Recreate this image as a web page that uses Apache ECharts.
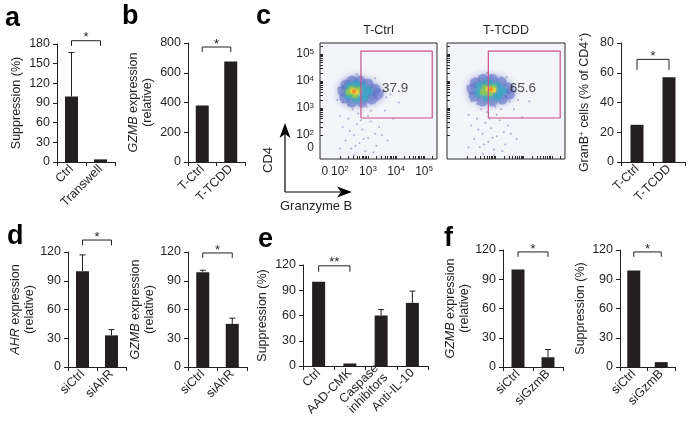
<!DOCTYPE html>
<html><head><meta charset="utf-8">
<script src="https://cdn.jsdelivr.net/npm/echarts@6/dist/echarts.min.js"></script>
<style>html,body{margin:0;padding:0;background:#fff}#c{width:693px;height:431px}</style>
</head><body><div id="c"></div>
<script>
// ---------- data ----------
const aCats = ['Ctrl', 'Transwell'];
const aVals = [100, 4];
const aErr = [167, null];

const bCats = ['T-Ctrl', 'T-TCDD'];
const bVals = [380, 675];

const cCats = ['T-Ctrl', 'T-TCDD'];
const cVals = [25, 57];

const d1Cats = ['siCtrl', 'siAhR'];
const d1Vals = [100, 33];
const d1Err = [117, 39];

const d2Cats = ['siCtrl', 'siAhR'];
const d2Vals = [99, 45];
const d2Err = [101, 51];

const eCats = ['Ctrl', 'AAD-CMK', 'Caspase\ninhibitors', 'Anti-IL-10'];
const eVals = [100, 3, 60, 75];
const eErr = [null, null, 67, 89];

const f1Cats = ['siCtrl', 'siGzmB'];
const f1Vals = [100, 10];
const f1Err = [null, 18];

const f2Cats = ['siCtrl', 'siGzmB'];
const f2Vals = [99, 5];

// significance brackets: [low, high] in data units
const aSig = [177, 185], bSig = [740, 773], cSig = [62, 69], d1Sig = [127, 132.5], d2Sig = [114, 119],
      eSig = [112, 119], f1Sig = [113, 118], f2Sig = [113, 118];

// flow cytometry (positions in log10 decades; 0 drawn at ~1.5)
const flowTitles = ['T-Ctrl', 'T-TCDD'];
const gatePct = ['37.9', '65.6'];
const gateX = [2.75, 5.29];
const gateY = [2.63, 5.11];
const gateLabelPos = [3.97, 3.72];
const flowZeroX = [1.46];
const flowZeroY = [1.53];
const flowDecadePos = [2, 3, 4, 5];
const flowDecadeText = ['10{s|2}', '10{s|3}', '10{s|4}', '10{s|5}'];
const flowZeroText = '0';

const ctrlSparse = [[2.2,3.9],[2.05,3.5],[2.3,3.1],[2.95,3.05],[3.35,3.3],[3.55,3.6],[3.25,4.1],[2.6,4.25],[1.95,3.75],[3.65,3.4],[3.1,2.9],[2.45,2.95],[3.8,3.5],[2.1,3.2],
  [2.3,2.6],[2.6,2.4],[2.8,2.2],[2.5,2.0],[3.0,1.9],[2.7,1.7],[3.3,1.6],[2.2,1.8],[2.9,1.4],[3.5,2.0],[2.4,1.5],[3.1,2.5],[2.65,2.8],[3.7,1.8],[2.1,2.3],[2.9,1.2],
  [3.4,2.3],[2.5,1.25],[3.2,1.35],[2.0,1.5],[3.9,2.6],[4.1,3.2],[3.0,2.7],[2.35,2.15],[2.75,2.55],[3.25,2.05],[2.55,1.6],[2.85,1.85],[3.6,2.9],[2.0,2.7],[1.9,3.3]];
const ctrlBlue = [[2.21,3.85],[2.43,4.0],[2.71,4.0],[3.0,3.89],[3.25,3.7],[3.36,3.52],[3.14,3.33],[2.79,3.22],[2.43,3.22],[2.18,3.37],[2.11,3.63],[2.57,3.78],[2.93,3.56]];
const ctrlCyan = [[2.36,3.78],[2.57,3.85],[2.79,3.78],[3.0,3.63],[2.86,3.41],[2.57,3.37],[2.32,3.48]];
const ctrlGreen = [[2.43,3.7],[2.64,3.67],[2.54,3.48],[2.32,3.59]];
const ctrlYellow = [[2.45,3.63],[2.58,3.59]];
const ctrlOrange = [[2.5,3.62]];

const tcddSparse = [[2.3,3.95],[2.1,3.55],[2.35,3.15],[3.0,3.05],[3.5,3.25],[3.7,3.6],[3.4,4.15],[2.7,4.3],[2.0,3.8],[3.8,3.3],[3.2,2.95],[2.5,2.95],[3.95,3.6],[2.15,3.25],
  [2.35,2.6],[2.65,2.45],[2.85,2.25],[2.55,2.05],[3.05,1.95],[2.75,1.75],[3.35,1.65],[2.25,1.85],[2.95,1.45],[3.55,2.05],[2.45,1.55],[3.15,2.55],[2.7,2.85],[3.75,1.85],[2.15,2.35],[2.95,1.25],
  [3.45,2.35],[2.55,1.3],[3.25,1.4],[2.05,1.55],[3.95,2.65],[4.2,3.25],[3.05,2.75],[2.4,2.2],[2.8,2.6],[3.3,2.1],[2.6,1.65],[2.9,1.9],[3.65,2.95],[2.05,2.75],[4.0,3.9]];
const tcddBlue = [[2.29,3.93],[2.57,4.07],[2.89,4.07],[3.21,3.96],[3.46,3.74],[3.5,3.52],[3.25,3.33],[2.89,3.26],[2.54,3.26],[2.25,3.44],[2.18,3.7],[2.71,3.85],[3.07,3.59]];
const tcddCyan = [[2.46,3.81],[2.75,3.93],[3.04,3.81],[3.25,3.63],[3.07,3.44],[2.71,3.41],[2.43,3.56]];
const tcddGreen = [[2.64,3.74],[2.93,3.74],[2.79,3.56],[2.57,3.59]];
const tcddYellow = [[2.75,3.7],[2.93,3.67]];
const tcddOrange = [[2.84,3.7]];

// ---------- styling / layout ----------
const FONT = '"Liberation Sans", Arial, Helvetica, sans-serif';
const INK = '#231f20';
const TICK_FS = 12.5;

const grids = [], xAxes = [], yAxes = [], series = [], graphics = [];
const sigList = [];

function txt(extra) { return Object.assign({ color: INK, fontFamily: FONT, fontSize: TICK_FS }, extra || {}); }

function addBarPanel(p) {
  const gi = grids.length, xi = xAxes.length, yi = yAxes.length;
  grids.push(Object.assign({ containLabel: false }, p.grid));
  xAxes.push({
    type: 'category', gridIndex: gi, data: p.cats, position: 'bottom',
    axisLine: { show: true, lineStyle: { color: INK, width: 1 } },
    axisTick: { show: true, length: 4, lineStyle: { color: INK } },
    axisLabel: txt({ rotate: 45, margin: 5, interval: 0, lineHeight: 13 })
  });
  yAxes.push({
    type: 'value', gridIndex: gi, min: 0, max: p.max, interval: p.interval, position: 'left',
    splitLine: { show: false },
    axisLine: { show: true, lineStyle: { color: INK, width: 1 } },
    axisTick: { show: true, length: 4, lineStyle: { color: INK } },
    axisLabel: txt({ margin: 7 }),
    name: p.name, nameLocation: 'middle', nameGap: p.gap, nameRotate: 90,
    nameTextStyle: txt({ lineHeight: 14, rich: {
      i: txt({ fontStyle: 'italic', lineHeight: 14 }),
      sup: txt({ fontSize: 8, verticalAlign: 'top', lineHeight: 9 })
    } })
  });
  series.push({ type: 'bar', xAxisIndex: xi, yAxisIndex: yi, data: p.vals, barWidth: 13,
    itemStyle: { color: INK }, silent: true, animation: false });
  if (p.errs) {
    const ed = [];
    p.errs.forEach((e, i) => { if (e != null) ed.push([i, p.vals[i], e]); });
    series.push({
      type: 'custom', xAxisIndex: xi, yAxisIndex: yi, data: ed, clip: false, silent: true, animation: false,
      encode: { x: 0, y: 1 },
      renderItem: function (params, api) {
        const b = api.coord([api.value(0), api.value(1)]);
        const t = api.coord([api.value(0), api.value(2)]);
        return { type: 'group', children: [
          { type: 'line', shape: { x1: b[0], y1: b[1], x2: b[0], y2: t[1] }, style: { stroke: INK, lineWidth: 1 } },
          { type: 'line', shape: { x1: b[0] - 3, y1: t[1], x2: b[0] + 3, y2: t[1] }, style: { stroke: INK, lineWidth: 1 } }
        ] };
      }
    });
  }
  if (p.sig) {
    const lo = p.sig[0], hi = p.sig[1];
    series.push({ type: 'line', xAxisIndex: xi, yAxisIndex: yi, clip: false, silent: true, animation: false,
      symbol: 'none', lineStyle: { color: INK, width: 1 },
      data: [[0, lo], [0, hi], [1, hi], [1, lo]] });
    sigList.push({ xi: xi, yi: yi, hi: hi, star: p.star });
  }
}

function addFlowPanel(f) {
  const gi = grids.length, xi = xAxes.length, yi = yAxes.length;
  grids.push(Object.assign({ containLabel: false, show: true, backgroundColor: '#f4f5f9', borderColor: '#2a2a2a', borderWidth: 1 }, f.grid));
  const minorX = [], minorY = [];
  for (let d = 2; d <= 5; d++) for (let k = 1; k <= 9; k++) {
    const v = d + Math.log10(k);
    if (v <= 5.45) minorX.push(v);
    if (v <= 5.4) minorY.push(v);
  }
  const fmt = (v) => { for (let i = 0; i < flowDecadePos.length; i++) if (Math.abs(flowDecadePos[i] - v) < 1e-3) return flowDecadeText[i]; return flowZeroText; };
  const rich = { s: txt({ fontSize: 8, verticalAlign: 'top', lineHeight: 8 }) };
  const xBase = { type: 'value', gridIndex: gi, min: 1.29, max: 5.46, position: 'bottom', offset: 0, splitLine: { show: false }, axisLine: { show: false } };
  const yBase = { type: 'value', gridIndex: gi, min: 1.11, max: 5.41, position: 'left', offset: 0, splitLine: { show: false }, axisLine: { show: false } };
  xAxes.push(Object.assign({}, xBase, {
    axisTick: { show: true, inside: true, length: 3, customValues: minorX, lineStyle: { color: '#2a2a2a' } },
    axisLabel: txt({ show: f.labels, customValues: flowDecadePos, formatter: fmt, margin: 6, rich: rich, lineHeight: 14, fontSize: 12 }) }));
  xAxes.push(Object.assign({}, xBase, { axisTick: { show: false },
    axisLabel: txt({ show: f.labels, customValues: flowZeroX, formatter: fmt, margin: 6, rich: rich, lineHeight: 14, fontSize: 12 }) }));
  yAxes.push(Object.assign({}, yBase, {
    axisTick: { show: true, inside: true, length: 3, customValues: minorY, lineStyle: { color: '#2a2a2a' } },
    axisLabel: txt({ show: f.labels, customValues: flowDecadePos, formatter: fmt, margin: 6, rich: rich, lineHeight: 13, fontSize: 12 }) }));
  yAxes.push(Object.assign({}, yBase, { axisTick: { show: false },
    axisLabel: txt({ show: f.labels, customValues: flowZeroY, formatter: fmt, margin: 6, rich: rich, lineHeight: 13, fontSize: 12 }) }));
  const sc = (data, color, size, op, blur) => series.push({ type: 'scatter', xAxisIndex: xi, yAxisIndex: yi, data: data,
    symbolSize: size, silent: true, animation: false,
    itemStyle: { color: color, opacity: op, shadowBlur: blur, shadowColor: color } });
  sc(f.sparse, '#9f97c9', 2, 0.8, 0);
  sc(f.blue, '#5b6cc6', 11, 0.5, 6);
  sc(f.cyan, '#3aa6c6', 8.5, 0.7, 5);
  sc(f.green, '#86c45a', 6.5, 0.85, 4);
  sc(f.yellow, '#ecd23e', 5, 0.95, 3);
  sc(f.orange, '#ef8a2c', 3.5, 1, 2);
  series.push({ type: 'line', xAxisIndex: xi, yAxisIndex: yi, silent: true, animation: false, symbol: 'none',
    lineStyle: { color: '#c9518c', width: 1.2 },
    data: [[gateX[0], gateY[0]], [gateX[1], gateY[0]], [gateX[1], gateY[1]], [gateX[0], gateY[1]], [gateX[0], gateY[0]]] });
  series.push({ type: 'scatter', xAxisIndex: xi, yAxisIndex: yi, silent: true, animation: false, symbolSize: 0,
    data: [gateLabelPos],
    label: { show: true, position: 'inside', formatter: f.pct, color: INK, fontFamily: FONT, fontSize: 13.5 } });
  f.gi = gi;
}

addBarPanel({ grid: { left: 57, top: 44, width: 58, height: 118 }, cats: aCats, vals: aVals, errs: aErr, max: 180, interval: 30,
  name: 'Suppression (%)', gap: 33, sig: aSig, star: '*' });
addBarPanel({ grid: { left: 188, top: 43, width: 57, height: 119 }, cats: bCats, vals: bVals, max: 800, interval: 200,
  name: '{i|GZMB} expression\n(relative)', gap: 33, sig: bSig, star: '*' });
const flows = [
  { grid: { left: 320, top: 43, width: 117, height: 116 }, labels: true, pct: gatePct[0], title: flowTitles[0],
    sparse: ctrlSparse, blue: ctrlBlue, cyan: ctrlCyan, green: ctrlGreen, yellow: ctrlYellow, orange: ctrlOrange },
  { grid: { left: 447, top: 43, width: 118, height: 116 }, labels: false, pct: gatePct[1], title: flowTitles[1],
    sparse: tcddSparse, blue: tcddBlue, cyan: tcddCyan, green: tcddGreen, yellow: tcddYellow, orange: tcddOrange }
];
flows.forEach(addFlowPanel);
addBarPanel({ grid: { left: 621, top: 43, width: 64, height: 119 }, cats: cCats, vals: cVals, max: 80, interval: 20,
  name: 'GranB{sup|+} cells (% of CD4{sup|+})', gap: 29, sig: cSig, star: '*' });
addBarPanel({ grid: { left: 68, top: 252, width: 58, height: 115 }, cats: d1Cats, vals: d1Vals, errs: d1Err, max: 120, interval: 30,
  name: '{i|AHR} expression\n(relative)', gap: 31, sig: d1Sig, star: '*' });
addBarPanel({ grid: { left: 188, top: 252, width: 59, height: 115 }, cats: d2Cats, vals: d2Vals, errs: d2Err, max: 120, interval: 30,
  name: '{i|GZMB} expression\n(relative)', gap: 26, sig: d2Sig, star: '*' });
addBarPanel({ grid: { left: 303, top: 265, width: 125, height: 101 }, cats: eCats, vals: eVals, errs: eErr, max: 120, interval: 30,
  name: 'Suppression (%)', gap: 33, sig: eSig, star: '**' });
addBarPanel({ grid: { left: 503, top: 250, width: 60, height: 117 }, cats: f1Cats, vals: f1Vals, errs: f1Err, max: 120, interval: 30,
  name: '{i|GZMB} expression\n(relative)', gap: 31, sig: f1Sig, star: '*' });
addBarPanel({ grid: { left: 620, top: 250, width: 55, height: 117 }, cats: f2Cats, vals: f2Vals, max: 120, interval: 30,
  name: 'Suppression (%)', gap: 32, sig: f2Sig, star: '*' });

// panel letters
[['a', 5, 19], ['b', 122, 17], ['c', 256, 17], ['d', 7, 237], ['e', 258, 240], ['f', 444, 239]].forEach(l => {
  graphics.push({ type: 'text', x: l[1], y: l[2], style: { text: l[0], fill: '#000', font: 'bold 27px ' + FONT, textAlign: 'left', textVerticalAlign: 'middle' } });
});
// axis arrows and labels of panel c
graphics.push({ type: 'line', shape: { x1: 285, y1: 192, x2: 285, y2: 132 }, style: { stroke: '#000', lineWidth: 1.2 } });
graphics.push({ type: 'polygon', shape: { points: [[285, 123], [290.5, 138], [285, 134], [279.5, 138]] }, style: { fill: '#000' } });
graphics.push({ type: 'line', shape: { x1: 285, y1: 192, x2: 342, y2: 192 }, style: { stroke: '#000', lineWidth: 1.2 } });
graphics.push({ type: 'polygon', shape: { points: [[352, 192], [337, 186.5], [341, 192], [337, 197.5]] }, style: { fill: '#000' } });
graphics.push({ type: 'text', x: 268, y: 160, rotation: Math.PI / 2, style: { text: 'CD4', fill: INK, font: '13px ' + FONT, textAlign: 'center', textVerticalAlign: 'middle' } });
graphics.push({ type: 'text', x: 280, y: 206, style: { text: 'Granzyme B', fill: INK, font: '13px ' + FONT, textAlign: 'left', textVerticalAlign: 'middle' } });

const chart = echarts.init(document.getElementById('c'), null, { renderer: 'canvas' });
chart.setOption({
  animation: false, backgroundColor: '#fff',
  grid: grids, xAxis: xAxes, yAxis: yAxes, series: series
});
flows.forEach(f => {
  const g = grids[f.gi];
  graphics.push({ type: 'text', x: g.left + g.width / 2, y: 31, style: { text: f.title, fill: INK, font: '12.5px ' + FONT, textAlign: 'center', textVerticalAlign: 'middle' } });
});
sigList.forEach(s => {
  const p0 = chart.convertToPixel({ xAxisIndex: s.xi, yAxisIndex: s.yi }, [0, s.hi]);
  const p1 = chart.convertToPixel({ xAxisIndex: s.xi, yAxisIndex: s.yi }, [1, s.hi]);
  graphics.push({ type: 'text', x: (p0[0] + p1[0]) / 2, y: p0[1] - 3, style: { text: s.star, fill: INK, font: '13px ' + FONT, textAlign: 'center', textVerticalAlign: 'middle' } });
});
chart.setOption({ graphic: graphics });
</script>
</body></html>
